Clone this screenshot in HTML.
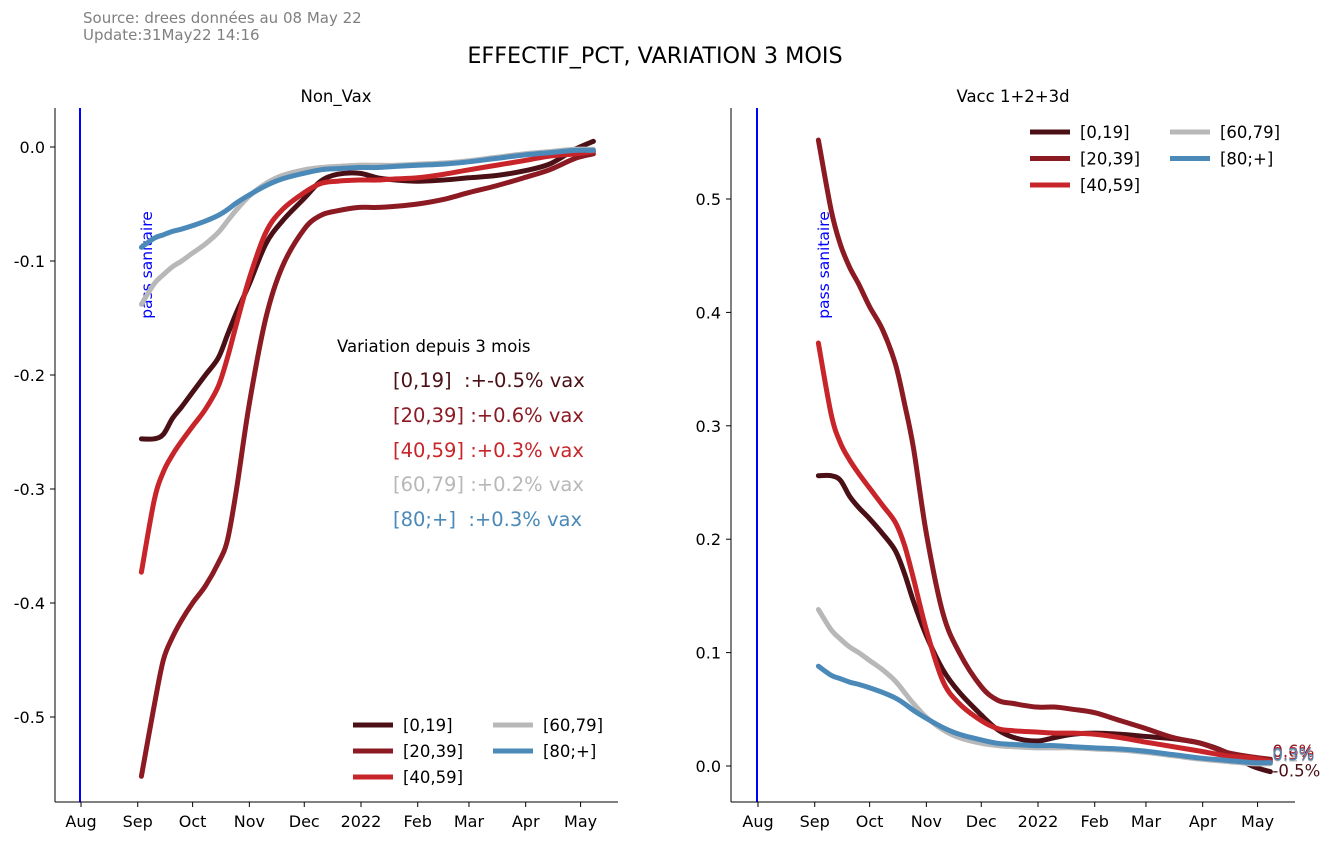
<!DOCTYPE html>
<html><head><meta charset="utf-8">
<style>
body{margin:0;background:#fff;}
svg{font-family:"DejaVu Sans","Liberation Sans",sans-serif;}
</style></head>
<body>
<svg id="chart" width="1331" height="840" viewBox="0 0 1331 840" xmlns="http://www.w3.org/2000/svg">
<text x="83" y="23" font-size="15" fill="#808080">Source: drees données au 08 May 22</text>
<text x="83" y="40" font-size="15" fill="#808080">Update:31May22 14:16</text>
<text x="655" y="63" font-size="22.3" text-anchor="middle" fill="#000">EFFECTIF_PCT, VARIATION 3 MOIS</text>
<text x="336" y="102" font-size="16.5" text-anchor="middle">Non_Vax</text>
<text x="1013" y="102" font-size="16.5" text-anchor="middle">Vacc 1+2+3d</text>
<g id="left"></g>
<g id="right"></g>
<text x="337" y="352" font-size="16.5">Variation depuis 3 mois</text>
<text x="393" y="387" font-size="19.5" fill="#4a1016" xml:space="preserve">[0,19]  :+-0.5% vax</text>
<text x="393" y="422" font-size="19.5" fill="#8b1a22" xml:space="preserve">[20,39] :+0.6% vax</text>
<text x="393" y="457" font-size="19.5" fill="#c8252a" xml:space="preserve">[40,59] :+0.3% vax</text>
<text x="393" y="491" font-size="19.5" fill="#b8b8b8" xml:space="preserve">[60,79] :+0.2% vax</text>
<text x="393" y="526" font-size="19.5" fill="#4a89b8" xml:space="preserve">[80;+]  :+0.3% vax</text>
<g id="legL"></g>
<g id="legR"></g>
</svg>
<script>
const days=[33,40,45,50,55,61,68,75,80,85,92,101,110,122,131,140,152,162,172,184,198,212,227,242,256,270,280];
const tickLabels=["Aug","Sep","Oct","Nov","Dec","2022","Feb","Mar","Apr","May"];
const tickDays=[0,31,61,92,122,153,184,212,243,273];
const seriesNames=["[0,19]","[20,39]","[40,59]","[60,79]","[80;+]"];
const colors=["#4a1016","#8b1a22","#c8252a","#b8b8b8","#4a89b8"];
const nv0=[-0.256,-0.256,-0.252,-0.238,-0.228,-0.215,-0.2,-0.185,-0.165,-0.145,-0.12,-0.085,-0.065,-0.045,-0.03,-0.024,-0.023,-0.027,-0.029,-0.03,-0.029,-0.027,-0.025,-0.021,-0.015,-0.002,0.005];
const nv1=[-0.552,-0.49,-0.45,-0.43,-0.415,-0.4,-0.385,-0.365,-0.345,-0.3,-0.225,-0.15,-0.105,-0.072,-0.06,-0.056,-0.053,-0.053,-0.052,-0.05,-0.046,-0.04,-0.034,-0.027,-0.02,-0.01,-0.006];
const nv2=[-0.373,-0.31,-0.285,-0.27,-0.258,-0.245,-0.23,-0.21,-0.185,-0.155,-0.115,-0.075,-0.055,-0.04,-0.032,-0.03,-0.029,-0.029,-0.028,-0.027,-0.024,-0.02,-0.016,-0.012,-0.008,-0.006,-0.004];
const nv3=[-0.138,-0.12,-0.112,-0.105,-0.1,-0.093,-0.085,-0.075,-0.065,-0.055,-0.043,-0.032,-0.025,-0.02,-0.018,-0.017,-0.016,-0.016,-0.016,-0.015,-0.014,-0.012,-0.009,-0.006,-0.004,-0.002,-0.002];
const nv4=[-0.088,-0.08,-0.077,-0.074,-0.072,-0.069,-0.065,-0.06,-0.055,-0.049,-0.042,-0.034,-0.028,-0.023,-0.02,-0.019,-0.018,-0.018,-0.017,-0.016,-0.015,-0.013,-0.01,-0.007,-0.005,-0.003,-0.003];
const vx0=[0.256,0.256,0.252,0.238,0.228,0.218,0.205,0.19,0.17,0.145,0.115,0.085,0.065,0.045,0.032,0.025,0.022,0.025,0.028,0.029,0.028,0.026,0.024,0.02,0.012,0,-0.005];
const vx1=[0.552,0.49,0.46,0.44,0.425,0.405,0.385,0.355,0.32,0.28,0.205,0.135,0.1,0.07,0.058,0.055,0.052,0.052,0.05,0.047,0.04,0.033,0.025,0.02,0.012,0.008,0.006];
const vx2=[0.373,0.31,0.285,0.27,0.258,0.245,0.23,0.215,0.195,0.165,0.12,0.075,0.055,0.04,0.033,0.031,0.03,0.029,0.029,0.028,0.025,0.021,0.017,0.013,0.009,0.007,0.004];
const vx3=[0.138,0.12,0.112,0.105,0.1,0.093,0.085,0.075,0.065,0.055,0.043,0.032,0.025,0.02,0.018,0.017,0.016,0.016,0.016,0.015,0.014,0.012,0.009,0.006,0.004,0.002,0.002];
const vx4=[0.088,0.08,0.077,0.074,0.072,0.069,0.065,0.06,0.055,0.049,0.042,0.034,0.028,0.023,0.02,0.019,0.018,0.018,0.017,0.016,0.015,0.013,0.01,0.007,0.005,0.003,0.003];
const leftTicks=[0.0,-0.1,-0.2,-0.3,-0.4,-0.5];
const rightTicks=[0.0,0.1,0.2,0.3,0.4,0.5];
const rightEndLabels=["-0.5%","0.6%","0.3%","0.2%","0.3%"];

const NS="http://www.w3.org/2000/svg";
function mk(tag,attrs,parent,text){const e=document.createElementNS(NS,tag);for(const k in attrs)e.setAttribute(k,attrs[k]);if(text!==undefined)e.textContent=text;parent.appendChild(e);return e;}
function smooth(pts){let d="M"+pts[0][0]+","+pts[0][1];for(let i=0;i<pts.length-1;i++){const p0=pts[i-1]||pts[i],p1=pts[i],p2=pts[i+1],p3=pts[i+2]||p2;
d+=" C"+(p1[0]+(p2[0]-p0[0])/6)+","+(p1[1]+(p2[1]-p0[1])/6)+" "+(p2[0]-(p3[0]-p1[0])/6)+","+(p2[1]-(p3[1]-p1[1])/6)+" "+p2[0]+","+p2[1];}return d;}

function panel(g,x0,x1,y0,y1,xAug,yZero,pxPer,ticks,data){
  const X=d=>xAug+1.83*d, Y=v=>yZero-v*pxPer;
  let e=mk("line",{x1:xAug-1,x2:xAug-1,y1:y0,y2:y1,stroke:"#0000ff","stroke-width":2},g);
  
  e=mk("text",{x:0,y:0,"font-size":15.5,fill:"#0000ff","text-anchor":"middle",transform:"translate("+(xAug+71)+",265) rotate(-90)"},g,"pass sanitaire");
  
  e=mk("line",{x1:x0,x2:x0,y1:y0,y2:y1,stroke:"#000","stroke-width":1},g);
  
  e=mk("line",{x1:x0,x2:x1,y1:y1,y2:y1,stroke:"#000","stroke-width":1},g);
  
  ticks.forEach(t=>{const y=Y(t);
    let a=mk("line",{x1:x0-5,x2:x0,y1:y,y2:y,stroke:"#000"},g);
    
    a=mk("text",{x:x0-10,y:y+6,"font-size":16,"text-anchor":"end"},g,t.toFixed(1));
    });
  tickDays.forEach((d,i)=>{const x=X(d);
    let a=mk("line",{x1:x,x2:x,y1:y1,y2:y1+5,stroke:"#000"},g);
    
    a=mk("text",{x:x,y:y1+25,"font-size":16,"text-anchor":"middle"},g,tickLabels[i]);
    });
  data.forEach((s,i)=>{const pts=days.map((d,j)=>[X(d),Y(s[j])]);
    const p=mk("path",{d:smooth(pts),fill:"none",stroke:colors[i],"stroke-width":5,"stroke-linecap":"round","stroke-linejoin":"round"},g);
    });
  return {X,Y};
}
const L=panel(document.getElementById("left"),55,618,108,802,81,147,1140,leftTicks,[nv0,nv1,nv2,nv3,nv4]);
const R=panel(document.getElementById("right"),731,1295,108,802,758,766,1134,rightTicks,[vx0,vx1,vx2,vx3,vx4]);
const rg=document.getElementById("right");
[1,3,2,4,0].forEach(i=>{const s=[vx0,vx1,vx2,vx3,vx4][i];const v=s[s.length-1];
  const t=mk("text",{x:R.X(days[days.length-1])+2,y:R.Y(v)+(i==0?5:-2),"font-size":16.5,fill:colors[i]},rg,rightEndLabels[i]);
  });
function legend(g,x,y,colGap,rowGap,order){
  order.forEach((i,k)=>{const col=k<3?0:1,row=k<3?k:k-3;const lx=x+col*colGap,ly=y+row*rowGap;
    let a=mk("line",{x1:lx,x2:lx+40,y1:ly,y2:ly,stroke:colors[i],"stroke-width":5},g);
    
    a=mk("text",{x:lx+50,y:ly+6,"font-size":16.5},g,seriesNames[i]);
    });
}
legend(document.getElementById("legL"),353,725,140,26,[0,1,2,3,4]);
legend(document.getElementById("legR"),1030,132,140,26.5,[0,1,2,3,4]);
</script>
</body></html>
